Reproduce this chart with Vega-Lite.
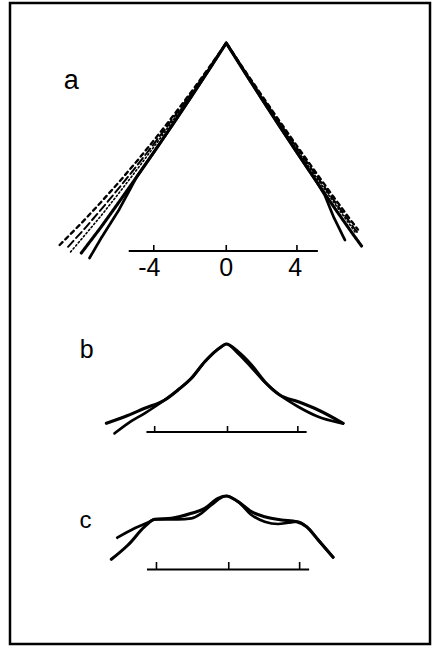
{
  "$schema": "https://vega.github.io/schema/vega-lite/v6.json",
  "width": 432,
  "height": 648,
  "autosize": {"type": "fit", "contains": "padding"},
  "padding": {"left": 10, "right": 2, "top": 3, "bottom": 4},
  "background": "white",
  "config": {"view": {"stroke": "black", "strokeWidth": 2.5}},
  "datasets": {
    "curves": [
      {"panel":"a","curve":"a-thick","style":"thick","u":-8.1,"y":392},{"panel":"a","curve":"a-thick","style":"thick","u":-7,"y":417.8},{"panel":"a","curve":"a-thick","style":"thick","u":-6,"y":442.8},{"panel":"a","curve":"a-thick","style":"thick","u":-5,"y":468.2},{"panel":"a","curve":"a-thick","style":"thick","u":-4,"y":494},{"panel":"a","curve":"a-thick","style":"thick","u":-3,"y":520.3},{"panel":"a","curve":"a-thick","style":"thick","u":-2,"y":547.1},{"panel":"a","curve":"a-thick","style":"thick","u":-1,"y":574.3},{"panel":"a","curve":"a-thick","style":"thick","u":0,"y":602},{"panel":"a","curve":"a-thick","style":"thick","u":1,"y":573.6},{"panel":"a","curve":"a-thick","style":"thick","u":2,"y":545.7},{"panel":"a","curve":"a-thick","style":"thick","u":3,"y":518.2},{"panel":"a","curve":"a-thick","style":"thick","u":4,"y":491.2},{"panel":"a","curve":"a-thick","style":"thick","u":5,"y":464.6},{"panel":"a","curve":"a-thick","style":"thick","u":6,"y":438.4},{"panel":"a","curve":"a-thick","style":"thick","u":7,"y":412.8},{"panel":"a","curve":"a-thick","style":"thick","u":7.56,"y":399},
      {"panel":"a","curve":"a-thin","style":"thin","u":-7.64,"y":387},{"panel":"a","curve":"a-thin","style":"thin","u":-7,"y":406.6},{"panel":"a","curve":"a-thin","style":"thin","u":-6,"y":435},{"panel":"a","curve":"a-thin","style":"thin","u":-5,"y":468.2},{"panel":"a","curve":"a-thin","style":"thin","u":-4,"y":494},{"panel":"a","curve":"a-thin","style":"thin","u":-3,"y":520.3},{"panel":"a","curve":"a-thin","style":"thin","u":-2,"y":547.1},{"panel":"a","curve":"a-thin","style":"thin","u":-1,"y":574.3},{"panel":"a","curve":"a-thin","style":"thin","u":0,"y":602},{"panel":"a","curve":"a-thin","style":"thin","u":1,"y":573.6},{"panel":"a","curve":"a-thin","style":"thin","u":2,"y":545.7},{"panel":"a","curve":"a-thin","style":"thin","u":3,"y":518.2},{"panel":"a","curve":"a-thin","style":"thin","u":4,"y":491.2},{"panel":"a","curve":"a-thin","style":"thin","u":5,"y":464.6},{"panel":"a","curve":"a-thin","style":"thin","u":5.5,"y":450},{"panel":"a","curve":"a-thin","style":"thin","u":6,"y":428},{"panel":"a","curve":"a-thin","style":"thin","u":6.63,"y":405},
      {"panel":"a","curve":"a-short","style":"shortdash","u":-9.31,"y":400},{"panel":"a","curve":"a-short","style":"shortdash","u":-9,"y":405.5},{"panel":"a","curve":"a-short","style":"shortdash","u":-8,"y":423.6},{"panel":"a","curve":"a-short","style":"shortdash","u":-7,"y":442.8},{"panel":"a","curve":"a-short","style":"shortdash","u":-6,"y":462.8},{"panel":"a","curve":"a-short","style":"shortdash","u":-5,"y":483.7},{"panel":"a","curve":"a-short","style":"shortdash","u":-4,"y":505.6},{"panel":"a","curve":"a-short","style":"shortdash","u":-3,"y":528.4},{"panel":"a","curve":"a-short","style":"shortdash","u":-2,"y":552},{"panel":"a","curve":"a-short","style":"shortdash","u":-1,"y":576.5},{"panel":"a","curve":"a-short","style":"shortdash","u":0,"y":602},{"panel":"a","curve":"a-short","style":"shortdash","u":1,"y":575.4},{"panel":"a","curve":"a-short","style":"shortdash","u":2,"y":549.2},{"panel":"a","curve":"a-short","style":"shortdash","u":3,"y":523.3},{"panel":"a","curve":"a-short","style":"shortdash","u":4,"y":497.8},{"panel":"a","curve":"a-short","style":"shortdash","u":5,"y":472.8},{"panel":"a","curve":"a-short","style":"shortdash","u":6,"y":448},{"panel":"a","curve":"a-short","style":"shortdash","u":7,"y":423.7},{"panel":"a","curve":"a-short","style":"shortdash","u":7.36,"y":415.4},
      {"panel":"a","curve":"a-long","style":"longdash","u":-8.84,"y":398.2},{"panel":"a","curve":"a-long","style":"longdash","u":-8,"y":414.6},{"panel":"a","curve":"a-long","style":"longdash","u":-7,"y":435.3},{"panel":"a","curve":"a-long","style":"longdash","u":-6,"y":456.8},{"panel":"a","curve":"a-long","style":"longdash","u":-5,"y":479.1},{"panel":"a","curve":"a-long","style":"longdash","u":-4,"y":502.1},{"panel":"a","curve":"a-long","style":"longdash","u":-3,"y":526},{"panel":"a","curve":"a-long","style":"longdash","u":-2,"y":550.5},{"panel":"a","curve":"a-long","style":"longdash","u":-1,"y":575.8},{"panel":"a","curve":"a-long","style":"longdash","u":0,"y":602},{"panel":"a","curve":"a-long","style":"longdash","u":1,"y":574.9},{"panel":"a","curve":"a-long","style":"longdash","u":2,"y":548.1},{"panel":"a","curve":"a-long","style":"longdash","u":3,"y":521.8},{"panel":"a","curve":"a-long","style":"longdash","u":4,"y":495.8},{"panel":"a","curve":"a-long","style":"longdash","u":5,"y":470.3},{"panel":"a","curve":"a-long","style":"longdash","u":6,"y":445.1},{"panel":"a","curve":"a-long","style":"longdash","u":7,"y":420.4},{"panel":"a","curve":"a-long","style":"longdash","u":7.3,"y":413.1},
      {"panel":"a","curve":"a-dot","style":"dotted","u":-8.7,"y":393},{"panel":"a","curve":"a-dot","style":"dotted","u":-8,"y":407.8},{"panel":"a","curve":"a-dot","style":"dotted","u":-7,"y":429.1},{"panel":"a","curve":"a-dot","style":"dotted","u":-6,"y":451.8},{"panel":"a","curve":"a-dot","style":"dotted","u":-5,"y":475.2},{"panel":"a","curve":"a-dot","style":"dotted","u":-4,"y":499.2},{"panel":"a","curve":"a-dot","style":"dotted","u":-3,"y":524},{"panel":"a","curve":"a-dot","style":"dotted","u":-2,"y":549.3},{"panel":"a","curve":"a-dot","style":"dotted","u":-1,"y":575.3},{"panel":"a","curve":"a-dot","style":"dotted","u":0,"y":602},{"panel":"a","curve":"a-dot","style":"dotted","u":1,"y":574.4},{"panel":"a","curve":"a-dot","style":"dotted","u":2,"y":547.2},{"panel":"a","curve":"a-dot","style":"dotted","u":3,"y":520.5},{"panel":"a","curve":"a-dot","style":"dotted","u":4,"y":494.1},{"panel":"a","curve":"a-dot","style":"dotted","u":5,"y":468.4},{"panel":"a","curve":"a-dot","style":"dotted","u":6,"y":443},{"panel":"a","curve":"a-dot","style":"dotted","u":7,"y":418},{"panel":"a","curve":"a-dot","style":"dotted","u":7.25,"y":411.5},
      {"panel":"b","curve":"b-thick","style":"thick","u":-6.7,"y":221.7},{"panel":"b","curve":"b-thick","style":"thick","u":-5.68,"y":228.3},{"panel":"b","curve":"b-thick","style":"thick","u":-4.56,"y":236.7},{"panel":"b","curve":"b-thick","style":"thick","u":-3.44,"y":245},{"panel":"b","curve":"b-thick","style":"thick","u":-2.7,"y":255},{"panel":"b","curve":"b-thick","style":"thick","u":-1.95,"y":266.7},{"panel":"b","curve":"b-thick","style":"thick","u":-1.2,"y":283.3},{"panel":"b","curve":"b-thick","style":"thick","u":-0.27,"y":298.3},{"panel":"b","curve":"b-thick","style":"thick","u":0,"y":301},{"panel":"b","curve":"b-thick","style":"thick","u":0.66,"y":293.3},{"panel":"b","curve":"b-thick","style":"thick","u":1.41,"y":280},{"panel":"b","curve":"b-thick","style":"thick","u":2.15,"y":263.3},{"panel":"b","curve":"b-thick","style":"thick","u":2.99,"y":250},{"panel":"b","curve":"b-thick","style":"thick","u":4.02,"y":243.3},{"panel":"b","curve":"b-thick","style":"thick","u":5.14,"y":235},{"panel":"b","curve":"b-thick","style":"thick","u":6.53,"y":221.7},
      {"panel":"b","curve":"b-thin","style":"thin","u":-6.24,"y":211.7},{"panel":"b","curve":"b-thin","style":"thin","u":-5.49,"y":221.7},{"panel":"b","curve":"b-thin","style":"thin","u":-4.56,"y":231.7},{"panel":"b","curve":"b-thin","style":"thin","u":-3.44,"y":245},{"panel":"b","curve":"b-thin","style":"thin","u":-2.7,"y":255},{"panel":"b","curve":"b-thin","style":"thin","u":-1.95,"y":266.7},{"panel":"b","curve":"b-thin","style":"thin","u":-1.2,"y":283.3},{"panel":"b","curve":"b-thin","style":"thin","u":-0.27,"y":298.3},{"panel":"b","curve":"b-thin","style":"thin","u":0,"y":301},{"panel":"b","curve":"b-thin","style":"thin","u":0.66,"y":291.5},{"panel":"b","curve":"b-thin","style":"thin","u":1.41,"y":277.5},{"panel":"b","curve":"b-thin","style":"thin","u":2.15,"y":263},{"panel":"b","curve":"b-thin","style":"thin","u":2.99,"y":250},{"panel":"b","curve":"b-thin","style":"thin","u":4.02,"y":238.3},{"panel":"b","curve":"b-thin","style":"thin","u":5.14,"y":228.3},{"panel":"b","curve":"b-thin","style":"thin","u":6.25,"y":222.7},{"panel":"b","curve":"b-thin","style":"thin","u":6.53,"y":221.7},
      {"panel":"c","curve":"c-thick","style":"thick","u":-6.42,"y":85.7},{"panel":"c","curve":"c-thick","style":"thick","u":-5.49,"y":100},{"panel":"c","curve":"c-thick","style":"thick","u":-4.56,"y":118.3},{"panel":"c","curve":"c-thick","style":"thick","u":-4.0,"y":125.7},{"panel":"c","curve":"c-thick","style":"thick","u":-3.07,"y":126.7},{"panel":"c","curve":"c-thick","style":"thick","u":-1.95,"y":131.7},{"panel":"c","curve":"c-thick","style":"thick","u":-1.2,"y":136.7},{"panel":"c","curve":"c-thick","style":"thick","u":-0.46,"y":146.7},{"panel":"c","curve":"c-thick","style":"thick","u":0,"y":149},{"panel":"c","curve":"c-thick","style":"thick","u":0.66,"y":143.3},{"panel":"c","curve":"c-thick","style":"thick","u":1.41,"y":133.3},{"panel":"c","curve":"c-thick","style":"thick","u":2.15,"y":128.3},{"panel":"c","curve":"c-thick","style":"thick","u":3.09,"y":125},{"panel":"c","curve":"c-thick","style":"thick","u":3.93,"y":123.3},{"panel":"c","curve":"c-thick","style":"thick","u":4.49,"y":118.3},{"panel":"c","curve":"c-thick","style":"thick","u":5.14,"y":105},{"panel":"c","curve":"c-thick","style":"thick","u":5.97,"y":87.7},
      {"panel":"c","curve":"c-thin","style":"thin","u":-6.09,"y":107.3},{"panel":"c","curve":"c-thin","style":"thin","u":-5.12,"y":116.7},{"panel":"c","curve":"c-thin","style":"thin","u":-4.28,"y":123.3},{"panel":"c","curve":"c-thin","style":"thin","u":-4.0,"y":125.7},{"panel":"c","curve":"c-thin","style":"thin","u":-2.7,"y":125.7},{"panel":"c","curve":"c-thin","style":"thin","u":-1.95,"y":126.7},{"panel":"c","curve":"c-thin","style":"thin","u":-1.39,"y":131.7},{"panel":"c","curve":"c-thin","style":"thin","u":-0.83,"y":140},{"panel":"c","curve":"c-thin","style":"thin","u":0,"y":149},{"panel":"c","curve":"c-thin","style":"thin","u":0.66,"y":143.3},{"panel":"c","curve":"c-thin","style":"thin","u":1.41,"y":130},{"panel":"c","curve":"c-thin","style":"thin","u":2.15,"y":123.3},{"panel":"c","curve":"c-thin","style":"thin","u":2.9,"y":121},{"panel":"c","curve":"c-thin","style":"thin","u":3.46,"y":122.3},{"panel":"c","curve":"c-thin","style":"thin","u":3.93,"y":123.3},{"panel":"c","curve":"c-thin","style":"thin","u":4.49,"y":118.3},{"panel":"c","curve":"c-thin","style":"thin","u":5.14,"y":105},{"panel":"c","curve":"c-thin","style":"thin","u":5.97,"y":87.7}
    ],
    "axes": [
      {"panel":"a","u1":-5.45,"u2":5.12,"y":394},
      {"panel":"b","u1":-4.46,"u2":4.49,"y":213},
      {"panel":"c","u1":-4.43,"u2":4.63,"y":75.5}
    ],
    "ticks": [
      {"panel":"a","u":-4.05,"y1":394,"y2":400},{"panel":"a","u":0,"y1":394,"y2":400},{"panel":"a","u":3.95,"y1":394,"y2":400},
      {"panel":"b","u":-4.0,"y1":213,"y2":219},{"panel":"b","u":0.07,"y1":213,"y2":219},{"panel":"b","u":4.0,"y1":213,"y2":219},
      {"panel":"c","u":-3.9,"y1":75.5,"y2":83},{"panel":"c","u":0.14,"y1":75.5,"y2":83},{"panel":"c","u":4.1,"y1":75.5,"y2":83}
    ],
    "labels": [
      {"text":"-4","u":-4.3,"y":377,"size":25},
      {"text":"0","u":0,"y":377,"size":25},
      {"text":"4","u":3.85,"y":377,"size":25},
      {"text":"a","u":-8.66,"y":564,"size":27},
      {"text":"b","u":-7.8,"y":295,"size":25},
      {"text":"c","u":-7.86,"y":124,"size":24}
    ]
  },
  "layer": [
    {
      "data": {"name": "curves"},
      "transform": [{"filter": "datum.panel === 'a'"}],
      "mark": {"type": "line", "interpolate": "linear", "color": "black", "strokeCap": "round", "strokeJoin": "round"},
      "encoding": {
        "x": {"field": "u", "type": "quantitative", "scale": {"domain": [-12.084, 11.385], "nice": false, "zero": false}, "axis": null},
        "y": {"field": "y", "type": "quantitative", "scale": {"domain": [1, 642], "nice": false, "zero": false}, "axis": null},
        "detail": {"field": "curve"},
        "strokeWidth": {"field": "style", "type": "nominal", "scale": {"domain": ["thick","thin","shortdash","longdash","dotted"], "range": [3.1,1.6,1.5,1.7,1.3]}, "legend": null},
        "strokeDash": {"field": "style", "type": "nominal", "scale": {"domain": ["thick","thin","shortdash","longdash","dotted"], "range": [[1,0],[1,0],[4,4],[8,4],[1.5,2.5]]}, "legend": null}
      }
    },
    {
      "data": {"name": "curves"},
      "transform": [{"filter": "datum.panel !== 'a'"}],
      "mark": {"type": "line", "interpolate": "monotone", "color": "black", "strokeCap": "round", "strokeJoin": "round"},
      "encoding": {
        "x": {"field": "u", "type": "quantitative"},
        "y": {"field": "y", "type": "quantitative"},
        "detail": {"field": "curve"},
        "strokeWidth": {"field": "style", "type": "nominal", "legend": null}
      }
    },
    {
      "data": {"name": "axes"},
      "mark": {"type": "rule", "color": "black", "strokeWidth": 1.8},
      "encoding": {
        "x": {"field": "u1", "type": "quantitative"},
        "x2": {"field": "u2"},
        "y": {"field": "y", "type": "quantitative"}
      }
    },
    {
      "data": {"name": "ticks"},
      "mark": {"type": "rule", "color": "black", "strokeWidth": 1.6},
      "encoding": {
        "x": {"field": "u", "type": "quantitative"},
        "y": {"field": "y1", "type": "quantitative"},
        "y2": {"field": "y2"}
      }
    },
    {
      "data": {"name": "labels"},
      "mark": {"type": "text", "color": "black", "font": "Liberation Sans", "align": "center", "baseline": "middle"},
      "encoding": {
        "x": {"field": "u", "type": "quantitative"},
        "y": {"field": "y", "type": "quantitative"},
        "text": {"field": "text"},
        "size": {"field": "size", "type": "quantitative", "scale": null}
      }
    }
  ]
}
